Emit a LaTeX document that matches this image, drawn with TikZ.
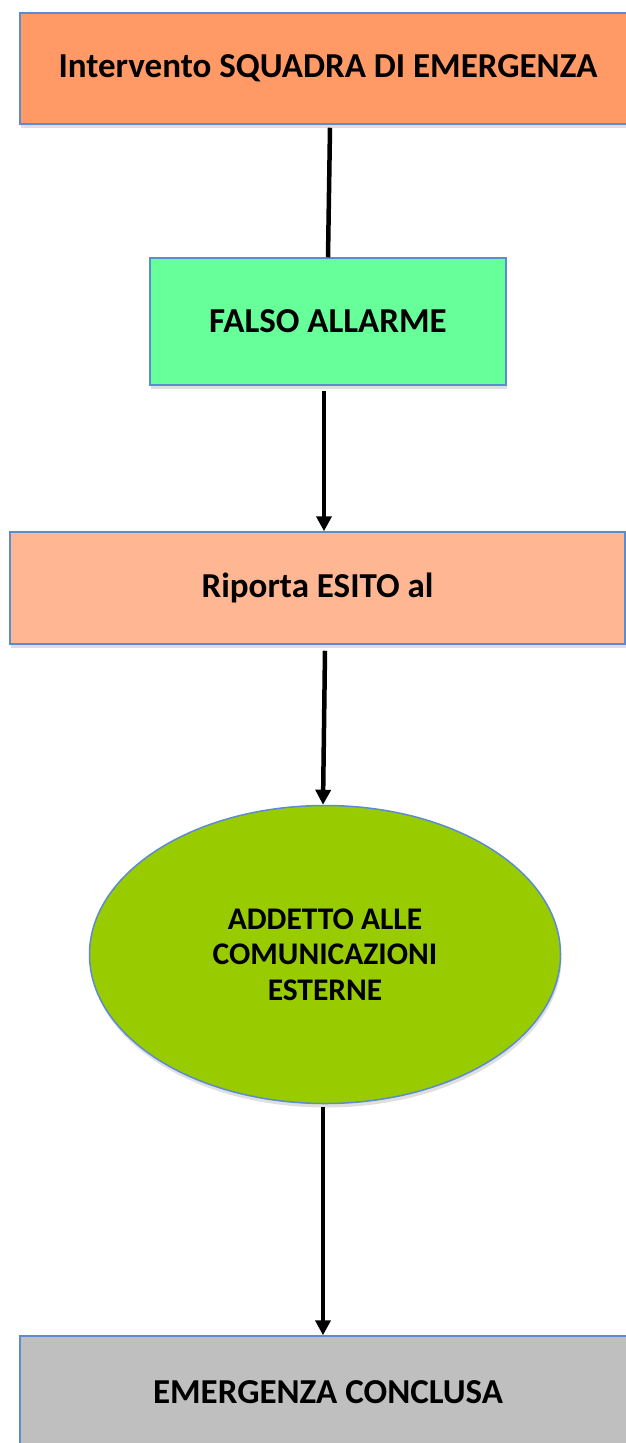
\documentclass[tikz,border=0pt]{standalone}
\usepackage{fontspec}
\setmainfont{Carlito}
\usepackage{tikz}
\usetikzlibrary{arrows.meta}
\usetikzlibrary{shapes.geometric}
\usetikzlibrary{shadows}
\tikzset{>=latex}
\definecolor{boxline}{HTML}{5B8BD0}
\definecolor{topfill}{HTML}{FF9966}
\definecolor{falsefill}{HTML}{66FF99}
\definecolor{esitofill}{HTML}{FFB692}
\definecolor{commfill}{HTML}{99CC00}
\definecolor{endfill}{HTML}{BFBFBF}
\tikzstyle{stepbox} = [draw=boxline, line width=1.5pt, align=center, inner sep=0,
  font=\fontsize{35}{40}\selectfont\bfseries,
  drop shadow={opacity=0.25, shadow xshift=1pt, shadow yshift=-4pt}]
\tikzstyle{flow} = [line width=4.5pt, -{Triangle[length=15pt, width=15pt]}]

\begin{document}
\begin{tikzpicture}[x=1pt, y=-1pt]
\useasboundingbox (0,0) rectangle (626,1443);
\clip (0,0) rectangle (626,1443);
\node [stepbox, fill=topfill, minimum width=616, minimum height=111] (T) at (328, 68.5) {Intervento SQUADRA DI EMERGENZA};
\node [stepbox, fill=falsefill, minimum width=356, minimum height=127] (F) at (328, 321.5) {FALSO ALLARME};
\node [stepbox, fill=esitofill, minimum width=615, minimum height=112] (R) at (317.5, 588) {Riporta ESITO al};
\node [stepbox, ellipse, fill=commfill, minimum width=471, minimum height=298,
  font=\fontsize{31.5}{35.5}\selectfont\bfseries] (C) at (325, 954.5) {ADDETTO ALLE\\COMUNICAZIONI\\ESTERNE};
\node [stepbox, fill=endfill, minimum width=616, minimum height=112] (E) at (328, 1392) {EMERGENZA CONCLUSA};
\draw [line width=4.5pt] ([xshift=2pt, yshift=-3pt]T.south) to (F.north);
\draw [flow] ([xshift=-4pt, yshift=-5pt]F.south) to ([xshift=6.5pt]R.north);
\draw [flow] ([xshift=7.5pt, yshift=-6pt]R.south) to ([xshift=-2pt]C.north);
\draw [flow] ([xshift=-2pt, yshift=-3pt]C.south) to ([xshift=-5pt]E.north);
\end{tikzpicture}
\end{document}
